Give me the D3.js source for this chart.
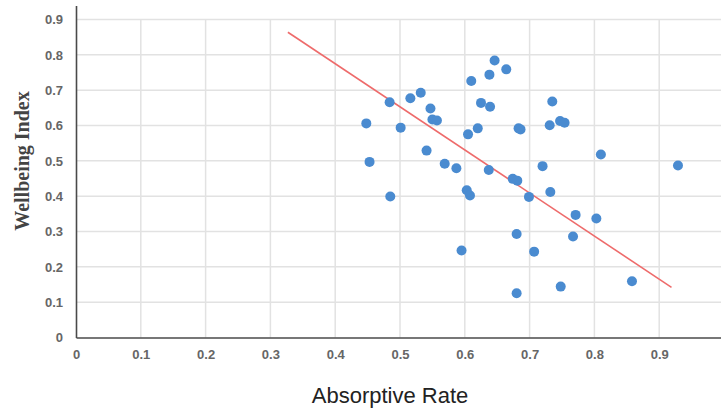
<!DOCTYPE html>
<html>
<head>
<meta charset="utf-8">
<script src="https://cdn.jsdelivr.net/npm/d3@7"></script>
<style>
  html, body { margin: 0; padding: 0; background: #fff; }
  svg { display: block; }
</style>
</head>
<body>
<svg id="chart" width="721" height="412"></svg>
<script>
// ---- data ----
const absorptiveRate = [0.646,0.664,0.638,0.610,0.532,0.516,0.484,0.625,0.639,0.547,0.550,0.557,0.448,0.501,0.620,0.683,0.686,0.605,0.541,0.453,0.569,0.587,0.637,0.674,0.681,0.603,0.608,0.485,0.699,0.810,0.720,0.732,0.771,0.803,0.680,0.767,0.595,0.707,0.748,0.680,0.929,0.858,0.735,0.731,0.747,0.754];
const wellbeingIndex = [0.784,0.759,0.744,0.726,0.693,0.677,0.666,0.664,0.653,0.648,0.617,0.614,0.606,0.594,0.592,0.592,0.589,0.575,0.529,0.497,0.492,0.479,0.474,0.449,0.444,0.417,0.402,0.399,0.398,0.518,0.485,0.412,0.347,0.337,0.293,0.286,0.246,0.243,0.144,0.125,0.487,0.159,0.668,0.601,0.613,0.608];
const trendX = [0.327, 0.919];
const trendY = [0.864, 0.142];
const xTicks = [0,0.1,0.2,0.3,0.4,0.5,0.6,0.7,0.8,0.9,1];
const yTicks = [0,0.1,0.2,0.3,0.4,0.5,0.6,0.7,0.8,0.9];
const xTitle = "Absorptive Rate";
const yTitle = "Wellbeing Index";

// ---- layout ----
const svg = d3.select("#chart");
const x = d3.scaleLinear().domain([0, 1]).range([76, 724]);
const y = d3.scaleLinear().domain([0, 0.94]).range([337.5, 337.5 - 0.94 * 353.3]);
const fmt = d => d === 0 ? "0" : (d === 1 ? "1" : d3.format(".1f")(d));

// grid
const grid = svg.append("g");
grid.selectAll("line.h").data(yTicks.filter(d => d > 0)).join("line")
  .attr("x1", x(0)).attr("x2", 721)
  .attr("y1", d => y(d)).attr("y2", d => y(d))
  .attr("stroke", "#e2e2e2").attr("stroke-width", 1.5);
grid.selectAll("line.v").data(xTicks.filter(d => d > 0)).join("line")
  .attr("x1", d => x(d)).attr("x2", d => x(d))
  .attr("y1", y(0.9)).attr("y2", y(0))
  .attr("stroke", "#e2e2e2").attr("stroke-width", 1.5);

// axes
const xAxis = svg.append("g").attr("transform", `translate(0,${y(0)})`)
  .call(d3.axisBottom(x).tickValues(xTicks).tickFormat(fmt).tickSize(0).tickPadding(12));
const yAxis = svg.append("g").attr("transform", `translate(${x(0)},0)`)
  .call(d3.axisLeft(y).tickValues(yTicks).tickFormat(fmt).tickSize(0).tickPadding(13));
[xAxis, yAxis].forEach(g => {
  g.select(".domain").attr("stroke", "#4a4a4a").attr("stroke-width", 1.6);
  g.selectAll("text").attr("fill", "#666").attr("font-family", "Liberation Sans, Arial, sans-serif")
    .attr("font-size", 13).attr("font-weight", "bold");
});

// trend line
svg.append("line")
  .attr("x1", x(trendX[0])).attr("y1", y(trendY[0]))
  .attr("x2", x(trendX[1])).attr("y2", y(trendY[1]))
  .attr("stroke", "#ee6b6b").attr("stroke-width", 1.6);

// points
svg.append("g").selectAll("circle").data(absorptiveRate).join("circle")
  .attr("cx", d => x(d))
  .attr("cy", (d, i) => y(wellbeingIndex[i]))
  .attr("r", 5)
  .attr("fill", "#4a8bd0");

// titles
svg.append("text").attr("x", 390).attr("y", 403).attr("text-anchor", "middle")
  .attr("font-family", "Liberation Sans, Arial, sans-serif").attr("font-size", 22)
  .attr("fill", "#222").text(xTitle);
svg.append("text").attr("transform", "translate(29,161) rotate(-90)").attr("text-anchor", "middle")
  .attr("font-family", "Liberation Serif, Times New Roman, serif").attr("font-size", 20)
  .attr("font-weight", "bold").attr("fill", "#444").text(yTitle);
</script>
</body>
</html>
